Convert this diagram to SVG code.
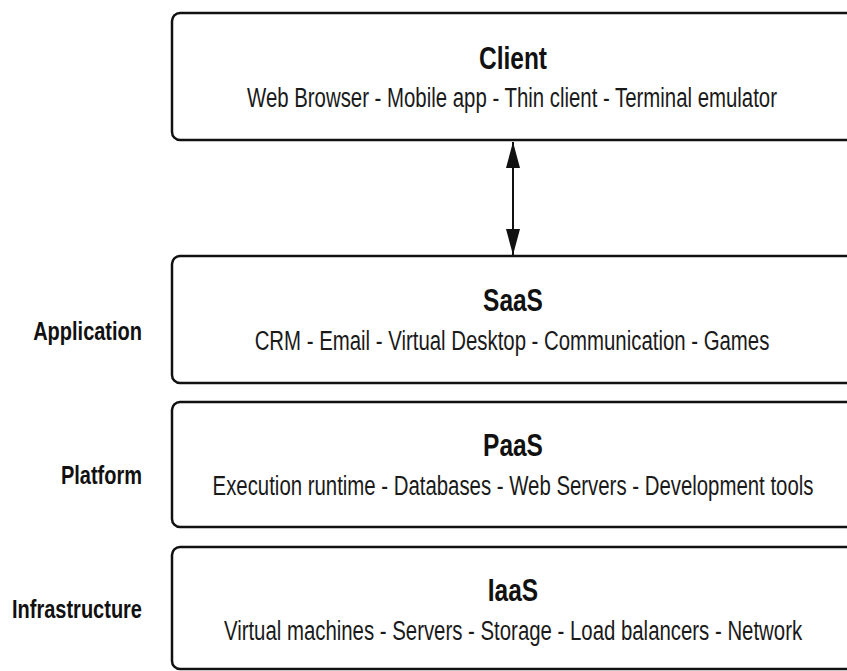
<svg xmlns="http://www.w3.org/2000/svg" width="847" height="671" viewBox="0 0 847 671">
<style>
.box{fill:#ffffff;stroke:#111111;stroke-width:2.5}
.title{font-family:"Liberation Sans",Arial,sans-serif;font-weight:bold;font-size:31px;fill:#111111;text-anchor:middle}
.sub{font-family:"Liberation Sans",Arial,sans-serif;font-size:27px;fill:#1a1a1a;text-anchor:middle}
.side{font-family:"Liberation Sans",Arial,sans-serif;font-weight:bold;font-size:25px;fill:#111111;text-anchor:end}
.conn{stroke:#111111;stroke-width:2;fill:none}
</style>
<defs>
<marker id="ah" viewBox="0 0 26 14" refX="26" refY="7" markerWidth="26" markerHeight="14" markerUnits="userSpaceOnUse" orient="auto-start-reverse">
<path d="M0,0 L26,7 L0,14 Z" fill="#111111"/>
</marker>
</defs>
<rect width="847" height="671" fill="#ffffff"/>
<g id="client">
<path class="box" d="M848,13 H180 A8,8 0 0 0 172,21 V132 A8,8 0 0 0 180,140 H848"/>
<text class="title" transform="translate(513,69) scale(0.79,1)">Client</text>
<text class="sub" transform="translate(512,107) scale(0.755,1)">Web Browser - Mobile app - Thin client - Terminal emulator</text>
</g>
<g id="saas">
<path class="box" d="M848,256 H180 A8,8 0 0 0 172,264 V375 A8,8 0 0 0 180,383 H848"/>
<text class="title" transform="translate(513,311) scale(0.79,1)">SaaS</text>
<text class="sub" transform="translate(512,350) scale(0.755,1)">CRM - Email - Virtual Desktop - Communication - Games</text>
</g>
<g id="paas">
<path class="box" d="M848,402 H180 A8,8 0 0 0 172,410 V519 A8,8 0 0 0 180,527 H848"/>
<text class="title" transform="translate(513,456) scale(0.79,1)">PaaS</text>
<text class="sub" transform="translate(513,495) scale(0.755,1)">Execution runtime - Databases - Web Servers - Development tools</text>
</g>
<g id="iaas">
<path class="box" d="M848,547 H180 A8,8 0 0 0 172,555 V661 A8,8 0 0 0 180,669 H848"/>
<text class="title" transform="translate(513,601) scale(0.79,1)">IaaS</text>
<text class="sub" transform="translate(513,640) scale(0.755,1)">Virtual machines - Servers - Storage - Load balancers - Network</text>
</g>
<g id="labels">
<text class="side" transform="translate(142,340) scale(0.8,1)">Application</text>
<text class="side" transform="translate(142,484) scale(0.8,1)">Platform</text>
<text class="side" transform="translate(142,618) scale(0.8,1)">Infrastructure</text>
</g>
<g id="connectors">
<line class="conn" x1="513" y1="142" x2="513" y2="255" marker-start="url(#ah)" marker-end="url(#ah)"/>
</g>
</svg>
